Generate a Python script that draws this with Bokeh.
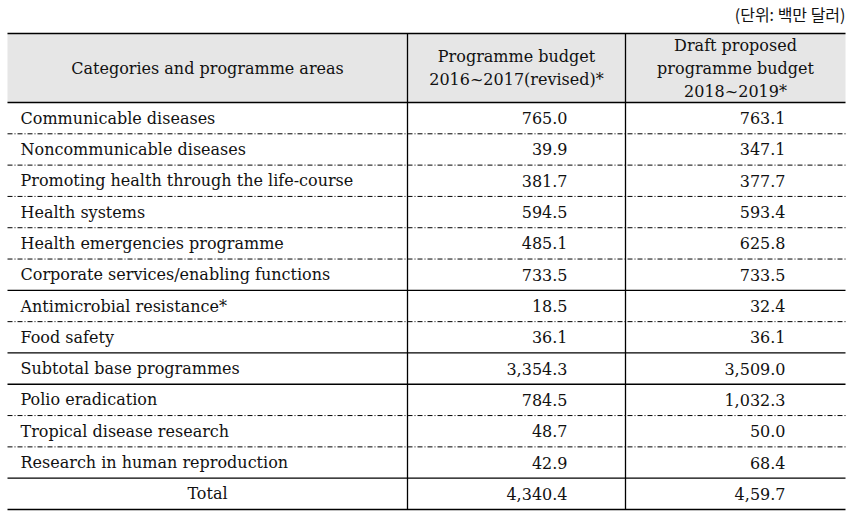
from bokeh.plotting import figure
from bokeh.models import Range1d
from bokeh.core.properties import value
from bokeh.embed import file_html
from bokeh.resources import INLINE

# ---- data ----
unit_label = "(단위: 백만 달러)"
header_col1 = ["Categories and programme areas"]
header_col2 = ["Programme budget", "2016~2017(revised)*"]
header_col3 = ["Draft proposed", "programme budget", "2018~2019*"]
categories = [
    "Communicable diseases",
    "Noncommunicable diseases",
    "Promoting health through the life-course",
    "Health systems",
    "Health emergencies programme",
    "Corporate services/enabling functions",
    "Antimicrobial resistance*",
    "Food safety",
    "Subtotal base programmes",
    "Polio eradication",
    "Tropical disease research",
    "Research in human reproduction",
    "Total",
]
budget_2016_2017 = ["765.0", "39.9", "381.7", "594.5", "485.1", "733.5", "18.5",
                    "36.1", "3,354.3", "784.5", "48.7", "42.9", "4,340.4"]
budget_2018_2019 = ["763.1", "347.1", "377.7", "593.4", "625.8", "733.5", "32.4",
                    "36.1", "3,509.0", "1,032.3", "50.0", "68.4", "4,59.7"]

# ---- layout ----
W, H = 852, 518
left, right = 7, 845
c1, c2 = 407, 625
top, head_bot = 33, 102
row_h = (509 - head_bot) / len(categories)
solid_after = {5, 7, 8, 11, 12}

FONT = "DejaVu Serif"
FS = "16px"
COLOR = "#111111"

p = figure(width=W, height=H, x_range=Range1d(0, W), y_range=Range1d(H, 0),
           output_backend="svg", toolbar_location=None, min_border=0)
p.axis.visible = False
p.grid.visible = False
p.outline_line_color = None
p.background_fill_color = "white"

# header background
p.quad(left=[left], right=[right], top=[top], bottom=[head_bot],
       fill_color="#e6e6e6", line_color=None)

# horizontal lines
n = len(categories)
ys_solid = [top, head_bot]
ys_dash = []
for i in range(n):
    yb = head_bot + (i + 1) * row_h
    (ys_solid if i in solid_after else ys_dash).append(yb)
p.segment(x0=[left] * len(ys_solid), x1=[right] * len(ys_solid), y0=ys_solid, y1=ys_solid,
          line_color="black", line_width=1.3)
p.segment(x0=[left] * len(ys_dash), x1=[right] * len(ys_dash), y0=ys_dash, y1=ys_dash,
          line_color="black", line_width=1, line_dash="5 2 1 2")
# vertical lines
p.segment(x0=[c1, c2], x1=[c1, c2], y0=[top, top], y1=[509, 509],
          line_color="black", line_width=1.3)

# unit label
p.text(x=[845], y=[13], text=[unit_label], text_font=value("Noto Sans CJK KR"),
       text_font_size="16px", text_align="right", text_baseline="middle", text_color=COLOR)

def txt(xs, ys, texts, align):
    p.text(x=xs, y=ys, text=texts, text_font=value(FONT), text_font_size=FS,
           text_align=align, text_baseline="middle", text_color=COLOR)

# header texts
hc = (top + head_bot) / 2
txt([(left + c1) / 2], [hc], header_col1, "center")
lh = 23
txt([(c1 + c2) / 2] * 2, [hc - lh / 2, hc + lh / 2], header_col2, "center")
txt([(c2 + right) / 2] * 3, [hc - lh, hc, hc + lh], header_col3, "center")

# body
ys = [head_bot + (i + 0.5) * row_h for i in range(n)]
txt([20] * (n - 1), ys[:-1], categories[:-1], "left")
txt([(left + c1) / 2], [ys[-1]], categories[-1:], "center")
txt([567] * n, ys, budget_2016_2017, "right")
txt([785] * n, ys, budget_2018_2019, "right")

open("out.html", "w").write(file_html(p, INLINE))
